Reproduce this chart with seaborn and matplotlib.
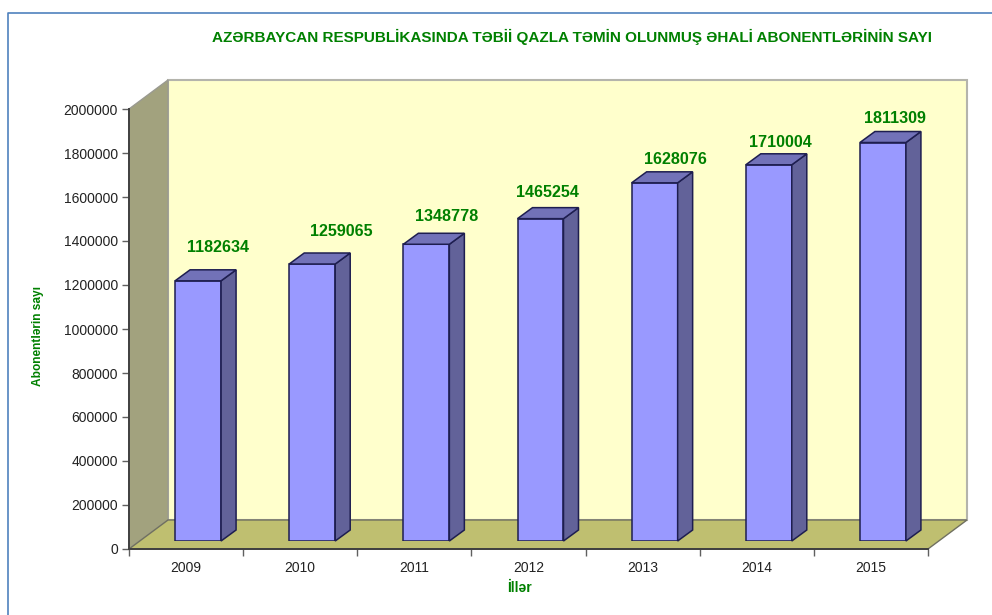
import numpy as np
import pandas as pd
import matplotlib
matplotlib.use("Agg")
import matplotlib.pyplot as plt
from matplotlib.patches import Polygon
from matplotlib.lines import Line2D
import seaborn as sns

years = ["2009", "2010", "2011", "2012", "2013", "2014", "2015"]
subscribers = [1182634, 1259065, 1348778, 1465254, 1628076, 1710004, 1811309]
y_ticks = [0, 200000, 400000, 600000, 800000, 1000000, 1200000, 1400000,
           1600000, 1800000, 2000000]
title = "AZƏRBAYCAN RESPUBLİKASINDA TƏBİİ QAZLA TƏMİN OLUNMUŞ ƏHALİ ABONENTLƏRİNİN SAYI"

# hand placed label nudges in px, relative to the bar centre / bar top
label_dx = [20, 29, 20, 7, 21, 12, 12]
label_dy = [33, 33, 28, 26, 23, 22, 24]

W, H = 992, 615
GREEN = "#008000"
DEPTH_X, DEPTH_Y = 39, 29          # wall depth in px
BAR_DX, BAR_DY = 12, 8             # bars sit in the middle of the floor
SIDE_X, SIDE_Y = 15, 11            # depth of one bar

sns.set_theme(style="white")
plt.rcParams["font.family"] = ["Liberation Sans", "DejaVu Sans"]


def box(x0, y0, x1, y1):
    # pixel box measured from the top left -> figure fractions
    return [x0 / W, 1 - y1 / H, (x1 - x0) / W, (y1 - y0) / H]


def px_poly(pts, **kw):
    return Polygon([(x / W, 1 - y / H) for x, y in pts],
                   transform=fig.transFigure, clip_on=False, **kw)


fig = plt.figure(figsize=(W / 100, H / 100), dpi=100, facecolor="white")
L, R, T, B = 129, 928, 109, 549

ax = fig.add_axes(box(L, T, R, B), facecolor="none", zorder=3)
bar_ax = fig.add_axes(box(L + BAR_DX, T - BAR_DY, R + BAR_DX, B - BAR_DY),
                      facecolor="none", zorder=4)

# the box behind the bars
fig.add_artist(px_poly([(L + DEPTH_X, T - DEPTH_Y), (R + DEPTH_X, T - DEPTH_Y),
                        (R + DEPTH_X, B - DEPTH_Y), (L + DEPTH_X, B - DEPTH_Y)],
                       fc="#FFFFCC", ec="#B4B4AC", lw=1.5, zorder=0))
fig.add_artist(px_poly([(L, T), (L + DEPTH_X, T - DEPTH_Y),
                        (L + DEPTH_X, B - DEPTH_Y), (L, B)],
                       fc="#A2A27E", ec="#9A9A90", lw=1, zorder=1))
fig.add_artist(px_poly([(L, B), (L + DEPTH_X, B - DEPTH_Y),
                        (R + DEPTH_X, B - DEPTH_Y), (R, B)],
                       fc="#BFBF70", ec="#707060", lw=1, zorder=1))

df = pd.DataFrame({"year": years, "subscribers": subscribers})
sns.barplot(data=df, x="year", y="subscribers", ax=bar_ax, width=0.403,
            color="#9999FF", saturation=1, edgecolor="#1E1E50", linewidth=1.1,
            zorder=3)
bar_ax.set_ylim(0, 2000000)
bar_ax.set_xlim(-0.5, 6.5)
bar_ax.axis("off")

# side and top faces + the value labels, taken from the bars seaborn drew
to_px = bar_ax.transData
for bar, val, dx, dy in zip(bar_ax.patches, subscribers, label_dx, label_dy):
    x0 = to_px.transform((bar.get_x(), 0))[0]
    x1 = to_px.transform((bar.get_x() + bar.get_width(), 0))[0]
    y0 = H - to_px.transform((0, 0))[1]
    y1 = H - to_px.transform((0, val))[1]
    fig.add_artist(px_poly([(x1, y1), (x1 + SIDE_X, y1 - SIDE_Y),
                            (x1 + SIDE_X, y0 - SIDE_Y), (x1, y0)],
                           fc="#626299", ec="#1E1E50", lw=1.1, zorder=5))
    fig.add_artist(px_poly([(x0, y1), (x0 + SIDE_X, y1 - SIDE_Y),
                            (x1 + SIDE_X, y1 - SIDE_Y), (x1, y1)],
                           fc="#7272B8", ec="#1E1E50", lw=1.1, zorder=5))
    fig.text(((x0 + x1) / 2 + dx) / W, 1 - (y1 - dy) / H, str(val), color=GREEN,
             fontsize=11.6, fontweight="bold", ha="center", va="center", zorder=6)

ax.set_xlim(0, len(years))
ax.set_ylim(0, 2000000)
ax.set_yticks(y_ticks, [str(t) for t in y_ticks])
ax.set_xticks(np.arange(len(years) + 1))
ax.set_xticklabels([])
ax.set_xticks(np.arange(len(years)) + 0.5, years, minor=True)
ax.tick_params(axis="y", length=5, width=1, color="#606060", labelsize=10,
               labelcolor="#222222", left=True, pad=3)
ax.tick_params(axis="x", which="major", length=5, width=1, color="#606060", bottom=True)
ax.tick_params(axis="x", which="minor", length=0, labelsize=10,
               labelcolor="#222222", pad=9)
for side in ("top", "right"):
    ax.spines[side].set_visible(False)
for side in ("left", "bottom"):
    ax.spines[side].set_color("#404040")
    ax.spines[side].set_linewidth(1.4)

fig.text(572 / W, 1 - 37 / H, title, color=GREEN, fontsize=10.98, fontweight="bold",
         ha="center", va="center")
fig.text(38 / W, 1 - 335.5 / H, "Abonentlərin sayı", color=GREEN, fontsize=8.6,
         fontweight="bold", rotation=90, ha="center", va="center")
fig.text(519 / W, 1 - 588 / H, "İllər", color=GREEN, fontsize=10,
         fontweight="bold", ha="center", va="center")

# blue frame of the original sheet, top and left edges only
fig.add_artist(Line2D([7.5 / W, 7.5 / W, 1], [0, 1 - 12.5 / H, 1 - 12.5 / H],
                      color="#4F81BD", lw=1.2))

fig.savefig("out.png", dpi=100)
